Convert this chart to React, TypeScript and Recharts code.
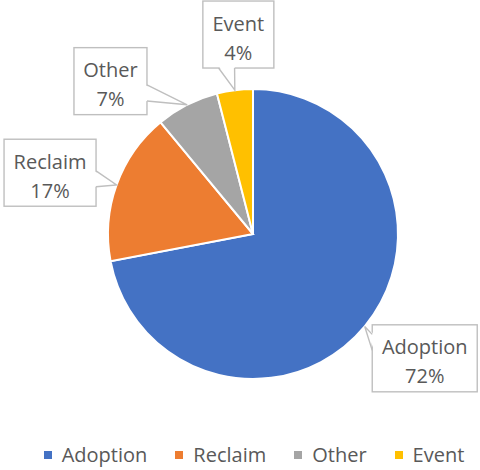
import React from 'react';
import { PieChart, Pie, Cell, Legend } from 'recharts';

const categories = ['Adoption', 'Reclaim', 'Other', 'Event'];
const shares = [72, 17, 7, 4];
const colors = ['#4472C4', '#ED7D31', '#A5A5A5', '#FFC000'];

const data = categories.map((name, i) => ({ name, value: shares[i] }));

const FONT = "'Open Sans', 'Noto Sans', sans-serif";
const TEXT = '#595959';
const BORDER = '#BFBFBF';
const RAD = Math.PI / 180;

// callout placement: [angle shift from slice middle, distance from centre]
const calloutLayout: Record<string, [number, number]> = {
  Adoption: [3.7, 212],
  Reclaim: [3, 212],
  Other: [16, 209],
  Event: [-3, 200],
};

let ctx: CanvasRenderingContext2D | null = null;
const measure = (s: string) => {
  if (!ctx) ctx = document.createElement('canvas').getContext('2d');
  if (!ctx) return s.length * 10;
  ctx.font = `20px ${FONT}`;
  return ctx.measureText(s).width;
};

const clamp = (v: number, lo: number, hi: number) => Math.max(lo, Math.min(hi, v));

const renderCallout = (props: any) => {
  const { cx, cy, midAngle, outerRadius, name, percent } = props;
  const [shift, dist] = calloutLayout[name] || [0, outerRadius + 60];
  const pct = `${Math.round(percent * 100)}%`;
  const w = Math.round(Math.max(measure(name), measure(pct)) + 19);
  const h = 67;
  const a = (midAngle + shift) * RAD;
  const bx = cx + dist * Math.cos(a);
  const by = cy - dist * Math.sin(a);
  const x0 = bx - w / 2;
  const y0 = by - h / 2;
  const tx = cx + outerRadius * Math.cos(midAngle * RAD);
  const ty = cy - outerRadius * Math.sin(midAngle * RAD);

  const nx = (tx - bx) / (w / 2);
  const ny = (ty - by) / (h / 2);
  const half = 8;
  let b1: [number, number], b2: [number, number], i1: [number, number], i2: [number, number];
  if (Math.abs(nx) > Math.abs(ny)) {
    const ex = nx > 0 ? x0 + w : x0;
    const inward = nx > 0 ? -2 : 2;
    const c = clamp((ty + by) / 2, y0 + half + 3, y0 + h - half - 3);
    b1 = [ex, c - half];
    b2 = [ex, c + half];
    i1 = [ex + inward, c - half];
    i2 = [ex + inward, c + half];
  } else {
    const ey = ny > 0 ? y0 + h : y0;
    const inward = ny > 0 ? -2 : 2;
    const c = clamp((tx + bx) / 2 - 10, x0 + half + 3, x0 + w - half - 3);
    b1 = [c - half, ey];
    b2 = [c + half, ey];
    i1 = [c - half, ey + inward];
    i2 = [c + half, ey + inward];
  }

  return (
    <g key={`callout-${name}`}>
      <rect x={x0} y={y0} width={w} height={h} fill="#fff" stroke={BORDER} strokeWidth={1.4} />
      <polygon points={`${i1.join(',')} ${tx},${ty} ${i2.join(',')}`} fill="#fff" />
      <polyline points={`${b1.join(',')} ${tx},${ty} ${b2.join(',')}`} fill="none" stroke={BORDER} strokeWidth={1.4} />
      <text x={bx} y={by - 4} textAnchor="middle" fill={TEXT} fontFamily={FONT} fontSize={20}>
        {name}
      </text>
      <text x={bx} y={by + 25} textAnchor="middle" fill={TEXT} fontFamily={FONT} fontSize={20}>
        {pct}
      </text>
    </g>
  );
};

const renderLegend = () => (
  <div style={{ display: 'flex', justifyContent: 'center', paddingLeft: 28, fontFamily: FONT, fontSize: 20, color: TEXT }}>
    {categories.map((c, i) => (
      <div key={c} style={{ display: 'flex', alignItems: 'center', marginRight: i < categories.length - 1 ? 28 : 0 }}>
        <span style={{ width: 8, height: 8, background: colors[i], marginRight: 10, display: 'inline-block' }} />
        <span>{c}</span>
      </div>
    ))}
  </div>
);

export default function App() {
  return (
    <div style={{ position: 'absolute', left: 0, top: 0, background: '#fff' }}>
      <PieChart width={480} height={470}>
        <Pie
          data={data}
          dataKey="value"
          nameKey="name"
          cx={248}
          cy={229}
          outerRadius={145}
          startAngle={90}
          endAngle={-270}
          stroke="#fff"
          strokeWidth={2}
          label={renderCallout}
          labelLine={false}
          isAnimationActive={false}
        >
          {data.map((d, i) => (
            <Cell key={d.name} fill={colors[i]} />
          ))}
        </Pie>
        <Legend content={renderLegend} wrapperStyle={{ top: 441, left: 0, width: 480 }} />
      </PieChart>
    </div>
  );
}
